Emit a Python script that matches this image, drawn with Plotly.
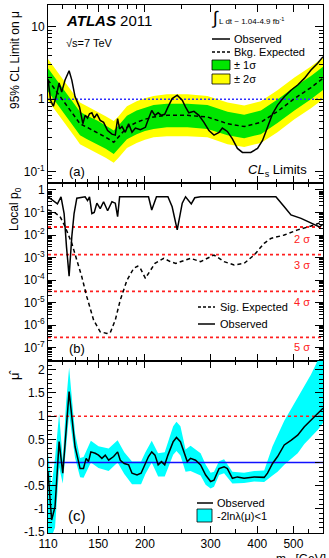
import math
import plotly.graph_objects as go

# ---------------- data ----------------
# Panel (a): 95% CL limit on mu
mass_lim_obs = [110, 111.8, 113.7, 115.6, 117.8, 119.7, 122.2, 125.3, 127.4, 130.0, 133.6, 136.4, 138.3, 140.4,
                142.1, 144.2, 146.3, 148.7, 151.8, 155.0, 158.9, 163.2, 166.6, 169.0, 171.1, 173.6, 177.2, 180.9,
                184.7, 188.6, 194.5, 200.6, 204.5, 208.6, 212.8, 217.0, 221.5, 226.0, 230.5, 236.6, 244.1, 251.8,
                257.0, 262.3, 270.6, 279.1, 287.9, 296.9, 306.3, 316.0, 322.5, 332.6, 343.1, 353.9, 365.0, 384.3,
                400.6, 413.2, 426.1, 439.5, 453.4, 472.5, 492.4, 513.2, 534.8, 557.2, 580.7, 600]
lim_obs = [1.9, 0.97, 0.80, 1.08, 1.68, 1.26, 1.84, 2.47, 1.84, 1.08, 0.78, 0.46, 0.60, 0.55, 0.63, 0.65, 0.55,
           0.63, 0.51, 0.48, 0.37, 0.33, 0.32, 0.54, 0.39, 0.42, 0.35, 0.46, 0.35, 0.40, 0.38, 0.41, 0.54, 0.70,
           0.60, 0.65, 0.60, 0.62, 0.78, 1.02, 1.14, 0.97, 0.78, 0.65, 0.68, 0.60, 0.48, 0.37, 0.32, 0.35, 0.40,
           0.36, 0.285, 0.21, 0.185, 0.185, 0.21, 0.27, 0.41, 0.63, 0.83, 1.08, 1.33, 1.57, 1.94, 2.53, 3.13, 3.87]

mass_lim_exp = [110, 115, 120, 125, 130, 134, 140, 149, 157, 165, 170, 179, 190, 200, 211, 229, 260, 294, 333,
                369, 409, 453, 503, 557, 600]
lim_exp = [1.85, 1.36, 1.01, 0.755, 0.57, 0.46, 0.41, 0.35, 0.30, 0.255, 0.30, 0.41, 0.48, 0.53, 0.57, 0.60,
           0.60, 0.57, 0.46, 0.42, 0.48, 0.68, 1.02, 1.45, 1.94]
lim_p2 = [3.6, 2.65, 1.97, 1.47, 1.11, 0.9, 0.8, 0.68, 0.585, 0.5, 0.585, 0.8, 0.94, 1.03, 1.11, 1.17, 1.17,
          1.11, 0.9, 0.82, 0.94, 1.33, 1.99, 2.83, 3.78]
lim_p1 = [2.68, 1.97, 1.46, 1.09, 0.83, 0.67, 0.59, 0.51, 0.435, 0.37, 0.435, 0.59, 0.70, 0.77, 0.83, 0.87,
          0.87, 0.83, 0.67, 0.61, 0.70, 0.99, 1.48, 2.10, 2.81]
lim_m1 = [1.28, 0.94, 0.70, 0.52, 0.39, 0.32, 0.28, 0.24, 0.207, 0.176, 0.207, 0.28, 0.33, 0.366, 0.39, 0.41,
          0.41, 0.39, 0.32, 0.29, 0.33, 0.47, 0.70, 1.0, 1.34]
lim_m2 = [0.96, 0.71, 0.525, 0.39, 0.30, 0.24, 0.213, 0.182, 0.156, 0.133, 0.156, 0.213, 0.25, 0.276, 0.30,
          0.31, 0.31, 0.30, 0.24, 0.22, 0.25, 0.35, 0.53, 0.75, 1.0]

# Panel (b): local p0
mass_p0_obs = [110, 113.7, 116.6, 119.2, 121.5, 123.3, 125.3, 127.4, 129.2, 131.4, 138.3, 140.4, 142.1, 144.2,
               146.3, 148.7, 151.8, 155.0, 158.9, 163.2, 166.6, 169.0, 171.1, 204.5, 208.6, 214.8, 230.5, 236.6,
               244.1, 251.8, 257.0, 266.2, 272.0, 282.0, 448.7, 472.5, 492.4, 524.0, 557.2, 587.0, 600]
p0_obs = [0.5, 0.34, 0.24, 0.5, 0.09, 3e-3, 1.5e-4, 8.5e-3, 0.09, 0.43, 0.5, 0.34, 0.5, 0.09, 0.1, 0.26, 0.15,
          0.3, 0.12, 0.3, 0.26, 0.065, 0.5, 0.5, 0.13, 0.5, 0.5, 0.18, 0.017, 0.26, 0.5, 0.24, 0.45, 0.5, 0.5,
          0.18, 0.078, 0.055, 0.033, 0.023, 0.03]

mass_p0_exp = [110, 113.7, 118.5, 122.2, 127.4, 131.4, 135.5, 139.8, 145.7, 151.8, 158.2, 161.5, 166.6, 171.8,
               179.1, 186.6, 191.3, 194.5, 200.6, 204.5, 212.8, 224.7, 234.1, 242.0, 265.0, 282.0, 306.3, 325.9,
               346.7, 368.7, 392.4, 417.4, 435.0, 472.5, 513.2, 557.2, 600]
p0_exp = [0.13, 0.11, 0.066, 0.024, 4.3e-3, 7.8e-4, 1.4e-4, 1.8e-5, 1.7e-6, 5.1e-7, 4.3e-7, 4.6e-7, 1.7e-6,
          1.3e-5, 1.0e-4, 3.3e-4, 4.2e-4, 3.3e-4, 1.2e-4, 2.0e-4, 5.5e-4, 9.3e-4, 6.6e-4, 5.5e-4, 9.3e-4,
          6.6e-4, 1.3e-3, 6.6e-4, 4.7e-4, 5.5e-4, 1.3e-3, 4.3e-3, 7.1e-3, 0.01, 0.017, 0.025, 0.039]

sigma_p0 = [0.02275, 1.35e-3, 3.17e-5, 2.87e-7]
sigma_labels = ["2 σ", "3 σ", "4 σ", "5 σ"]

# Panel (c): best-fit mu
mass_mu = [110, 112.5, 114.9, 117.8, 120.5, 125.3, 130.0, 134.1, 136.9, 139.2, 141.2, 143.3, 147.2, 150.2,
           153.4, 156.6, 159.9, 164.9, 169.0, 171.8, 176.1, 180.9, 184.7, 190.5, 195.3, 200.6, 204.5, 208.6,
           212.8, 217.0, 221.5, 226.0, 230.5, 238.1, 243.0, 249.0, 254.3, 259.7, 265.0, 273.4, 282.0, 290.9,
           300.0, 306.3, 316.0, 325.9, 332.6, 343.1, 353.9, 368.7, 392.4, 417.4, 426.1, 439.5, 453.4, 472.5,
           492.4, 513.2, 534.8, 557.2, 580.7, 600]
mu_obs = [-0.2, -1.24, -0.95, 0.45, -0.23, 1.53, 0.34, -0.13, -0.13, 0.09, 0.02, 0.23, 0.2, 0.16, 0.09, 0.16,
          0.05, 0.13, 0.23, 0.05, -0.02, -0.05, -0.23, -0.27, -0.23, -0.02, 0.13, 0.23, 0.16, -0.05, 0.02,
          -0.05, 0.16, 0.45, 0.54, 0.45, 0.23, 0.02, 0.09, 0.05, -0.05, -0.27, -0.41, -0.38, -0.13, -0.09,
          -0.13, -0.34, -0.31, -0.34, -0.31, -0.32, -0.23, -0.02, 0.13, 0.38, 0.48, 0.59, 0.77, 0.92, 1.06, 1.17]

mass_band = [110, 112.5, 114.9, 117.8, 120.5, 123.0, 125.3, 127.5, 130.0, 134.1, 137.0, 143.3, 150.2, 159.9,
             169.0, 176.1, 184.7, 195.3, 200.6, 208.6, 217.0, 226.0, 232.0, 238.1, 243.0, 249.0, 257.0, 265.0,
             282.0, 290.9, 300.0, 306.3, 316.0, 325.9, 343.1, 368.7, 392.4, 417.4, 439.5, 453.4, 472.5, 492.4,
             513.2, 534.8, 557.2, 580.7, 600]
mu_lo = [-1.6, -1.6, -1.4, -0.1, -0.45, 0.35, 1.05, 0.6, 0.1, -0.32, -0.33, 0.0, -0.12, -0.18, 0.0, -0.25,
         -0.47, -0.47, -0.25, 0.0, -0.3, -0.3, -0.08, 0.17, 0.25, 0.15, -0.2, -0.18, -0.28, -0.48, -0.56, -0.52,
         -0.27, -0.23, -0.45, -0.44, -0.41, -0.42, -0.28, -0.2, -0.05, 0.07, 0.2, 0.4, 0.55, 0.7, 0.85]
mu_hi = [0.2, -0.5, 0.1, 1.05, 0.05, 1.3, 2.05, 1.4, 0.62, 0.1, 0.12, 0.47, 0.35, 0.3, 0.48, 0.22, 0.02, 0.02,
         0.22, 0.47, 0.2, 0.22, 0.48, 0.78, 0.88, 0.78, 0.28, 0.36, 0.2, -0.04, -0.22, -0.2, 0.03, 0.07, -0.2,
         -0.22, -0.18, -0.17, 0.35, 0.6, 0.9, 1.15, 1.4, 1.65, 1.9, 2.2, 2.5]

x_ticks = [110, 150, 200, 300, 400, 500, 600]
x_minor = [120, 130, 140, 160, 170, 180, 190, 250, 350, 450, 550]
mass_min, mass_max = 110, 600

# ---------------- layout helpers ----------------
W, H = 329, 558
L, R, T, B = 48, 6, 5, 25
PW, PH = W - L - R, H - T - B
FONT = "Liberation Sans"


def P(x, y):
    return (x - L) / PW, (H - B - y) / PH


def dom(ytop, ybot):
    return [(H - B - ybot) / PH, (H - B - ytop) / PH]


fig = go.Figure()


def line(x, y, xa, ya, color="black", width=1.5, dash="solid", **kw):
    fig.add_trace(go.Scatter(x=x, y=y, mode="lines", xaxis=xa, yaxis=ya,
                             line=dict(color=color, width=width, dash=dash),
                             showlegend=False, hoverinfo="skip", **kw))


# panel (a)
line(mass_lim_exp, lim_m2, "x", "y", width=0)
line(mass_lim_exp, lim_p2, "x", "y", width=0, fill="tonexty", fillcolor="#ffff00")
line(mass_lim_exp, lim_m1, "x", "y", width=0)
line(mass_lim_exp, lim_p1, "x", "y", width=0, fill="tonexty", fillcolor="#00e600")
line([mass_min, mass_max], [1, 1], "x", "y", color="#3030ff", width=1.5, dash="2px,2px")
line(mass_lim_exp, lim_exp, "x", "y", dash="4px,3px")
line(mass_lim_obs, lim_obs, "x", "y")

# panel (b)
for p in sigma_p0:
    line([mass_min, mass_max], [p, p], "x2", "y2", color="#ff2020", width=1.8, dash="3px,3px")
line(mass_p0_exp, p0_exp, "x2", "y2", dash="4px,3px")
line(mass_p0_obs, p0_obs, "x2", "y2")

# panel (c)
line(mass_band, mu_lo, "x3", "y3", width=0)
line(mass_band, mu_hi, "x3", "y3", width=0, fill="tonexty", fillcolor="#00ffff")
line([mass_min, mass_max], [1, 1], "x3", "y3", color="#ff2020", width=1.5, dash="3px,3px")
line([mass_min, mass_max], [0, 0], "x3", "y3", color="#1010ff", width=1.5)
line(mass_mu, mu_obs, "x3", "y3")

tickfont = dict(family=FONT, size=12, color="black")
xcommon = dict(type="log", range=[math.log10(mass_min), math.log10(mass_max)], domain=[0, 1],
               showline=True, linecolor="black", linewidth=1, mirror="allticks",
               ticks="inside", ticklen=7, tickcolor="black", tickmode="array", tickvals=x_ticks,
               ticktext=[str(v) for v in x_ticks], showgrid=False, zeroline=False, tickfont=tickfont,
               minor=dict(ticks="inside", ticklen=4, tickcolor="black", tickmode="array", tickvals=x_minor,
                          showgrid=False))

ycommon = dict(showline=True, linecolor="black", linewidth=1, mirror="allticks", ticks="inside",
               ticklen=8, tickcolor="black", showgrid=False, zeroline=False, tickfont=tickfont)


def log_minor(d0, d1):
    out = []
    for d in range(d0, d1 + 1):
        for k in range(2, 10):
            out.append(k * 10.0 ** d)
    return out


fig.update_layout(
    width=W, height=H, margin=dict(l=L, r=R, t=T, b=B), plot_bgcolor="white", paper_bgcolor="white",
    font=dict(family=FONT, size=12, color="black"), showlegend=False,
    xaxis=dict(xcommon, anchor="y", showticklabels=False),
    xaxis2=dict(xcommon, anchor="y2", showticklabels=False, matches="x"),
    xaxis3=dict(xcommon, anchor="y3", showticklabels=True, matches="x"),
    yaxis=dict(ycommon, type="log", domain=dom(5, 183), range=[-1.155, 1.30], anchor="x",
               tickmode="array", tickvals=[0.1, 1, 10], ticktext=["10<sup>-1</sup>", "1", "10"],
               minor=dict(ticks="inside", ticklen=4, tickcolor="black", tickmode="array",
                          tickvals=log_minor(-2, 1))),
    yaxis2=dict(ycommon, type="log", domain=dom(183, 361), range=[-7.59, 0.31], anchor="x2",
                tickmode="array", tickvals=[10.0 ** -k for k in range(0, 8)],
                ticktext=["1"] + ["10<sup>-%d</sup>" % k for k in range(1, 8)],
                minor=dict(ticks="inside", ticklen=4, tickcolor="black", tickmode="array",
                           tickvals=log_minor(-8, 0))),
    yaxis3=dict(ycommon, domain=dom(361, 533), range=[-1.52, 2.19], anchor="x3",
                tickmode="array", tickvals=[-1.5, -1, -0.5, 0, 0.5, 1, 1.5, 2],
                ticktext=["-1.5", "-1", "-0.5", "0", "0.5", "1", "1.5", "2"],
                minor=dict(ticks="inside", ticklen=4, tickcolor="black", dtick=0.1, tick0=0)),
)

ann = []


def text(x, y, s, size=12, color="black", xanchor="left", yanchor="middle", angle=0):
    px_, py_ = P(x, y)
    ann.append(dict(x=px_, y=py_, xref="paper", yref="paper", text=s, showarrow=False,
                    xanchor=xanchor, yanchor=yanchor, textangle=angle,
                    font=dict(family=FONT, size=size, color=color)))


# axis titles
text(15, 60, "95% CL Limit on μ", size=12, xanchor="center", angle=-90)
text(15, 209, "Local p<sub>0</sub>", size=12, xanchor="center", angle=-90)
text(15, 375, "μ̂", size=13, xanchor="center", angle=-90)
text(328, 550, "m<sub>H</sub> [GeV]", size=12, xanchor="right", yanchor="top")

# panel (a) labels
text(64, 21, "<b><i>ATLAS</i></b> 2011", size=15)
text(64, 43, "√s=7 TeV", size=11)
text(67, 171, "(a)", size=13)
text(309, 170, "<i>CL</i><sub>s</sub> Limits", size=13, xanchor="right")
text(209, 18, "∫", size=18, xanchor="left")
text(217, 21, "L dt ~ 1.04-4.9 fb<sup>-1</sup>", size=8)
text(232, 39, "Observed", size=11)
text(232, 52, "Bkg. Expected", size=11)
text(232, 65, "± 1σ", size=11)
text(232, 79, "± 2σ", size=11)

# panel (b) labels
text(67, 348, "(b)", size=13)
for s, yy in zip(sigma_labels, [239, 265, 302, 347]):
    text(302, yy, s, size=11, color="#ff2020", xanchor="center")
text(218, 307, "Sig. Expected", size=11)
text(218, 324, "Observed", size=11)

# panel (c) labels
text(66, 515, "(c)", size=15)
text(215, 503, "Observed", size=11)
text(215, 516, "-2lnλ(μ)<1", size=11)

fig.update_layout(annotations=ann)

shapes = []


def seg(x0, y0, x1, y1, dash="solid", color="black", width=1.5):
    a0, b0 = P(x0, y0)
    a1, b1 = P(x1, y1)
    shapes.append(dict(type="line", xref="paper", yref="paper", x0=a0, y0=b0, x1=a1, y1=b1,
                       line=dict(color=color, width=width, dash=dash)))


def box(x0, y0, x1, y1, fill):
    a0, b0 = P(x0, y0)
    a1, b1 = P(x1, y1)
    shapes.append(dict(type="rect", xref="paper", yref="paper", x0=a0, y0=b0, x1=a1, y1=b1,
                       fillcolor=fill, line=dict(color="black", width=0.8)))


seg(212, 39, 230, 39)
seg(212, 52, 230, 52, dash="3px,2px")
box(212, 60, 230, 70, "#00e600")
box(212, 74, 230, 84, "#ffff00")
seg(198, 307, 215, 307, dash="3px,2px")
seg(198, 324, 215, 324)
seg(197, 503, 213, 503)
box(197, 509, 212, 522, "#00ffff")
fig.update_layout(shapes=shapes)

fig.write_html("out.html")
